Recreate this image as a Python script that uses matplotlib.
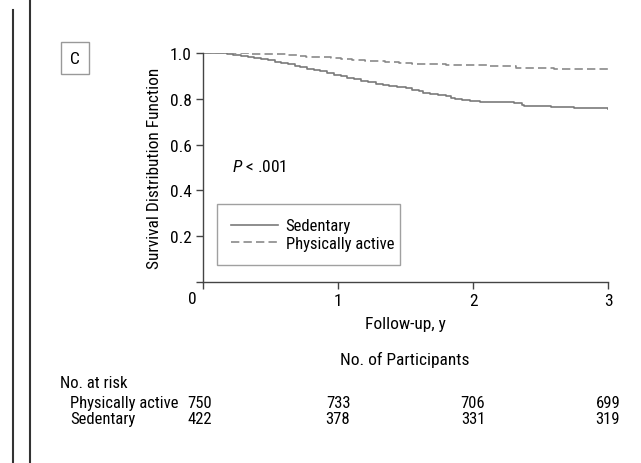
import matplotlib.pyplot as plt
from matplotlib.lines import Line2D

# survival step data (years, survival probability)
sed_t = [0, 0.12, 0.18, 0.22, 0.28, 0.33, 0.38, 0.43, 0.48, 0.53, 0.58, 0.63, 0.68,
         0.72, 0.77, 0.82, 0.87, 0.92, 0.97, 1.02, 1.07, 1.12, 1.17, 1.22, 1.28,
         1.33, 1.38, 1.44, 1.50, 1.55, 1.60, 1.63, 1.68, 1.74, 1.80, 1.84, 1.87,
         1.92, 1.98, 2.05, 2.12, 2.20, 2.30, 2.36, 2.38, 2.48, 2.58, 2.68, 2.75,
         2.85, 3.0]
sed_s = [1.0, 0.998, 0.995, 0.992, 0.988, 0.984, 0.980, 0.975, 0.970, 0.962, 0.955,
         0.950, 0.944, 0.938, 0.932, 0.926, 0.920, 0.913, 0.906, 0.899, 0.892, 0.886,
         0.879, 0.872, 0.866, 0.861, 0.856, 0.850, 0.845, 0.840, 0.834, 0.824, 0.821,
         0.818, 0.812, 0.804, 0.797, 0.794, 0.791, 0.788, 0.786, 0.784, 0.782, 0.775,
         0.769, 0.768, 0.766, 0.763, 0.759, 0.758, 0.757]

act_t = [0, 0.25, 0.35, 0.5, 0.62, 0.7, 0.76, 0.85, 0.95, 1.02, 1.1, 1.2, 1.27,
         1.35, 1.45, 1.55, 1.65, 1.8, 1.95, 2.1, 2.25, 2.32, 2.45, 2.6, 2.8, 3.0]
act_s = [1.0, 0.998, 0.996, 0.994, 0.991, 0.989, 0.984, 0.981, 0.977, 0.974, 0.970,
         0.966, 0.963, 0.960, 0.956, 0.953, 0.950, 0.948, 0.946, 0.944, 0.942, 0.935,
         0.933, 0.932, 0.931, 0.931]

years = [0, 1, 2, 3]
at_risk_active = [750, 733, 706, 699]
at_risk_sed = [422, 378, 331, 319]

FS = 12
plt.rcParams['font.family'] = ['Roboto Condensed', 'DejaVu Sans']
plt.rcParams['font.size'] = FS
plt.rcParams['mathtext.fontset'] = 'custom'
plt.rcParams['mathtext.it'] = 'Roboto Condensed:italic'

W, H = 641, 464
fig = plt.figure(figsize=(W / 100, H / 100), dpi=100)

def fx(px):
    return px / W

def fy(py):
    return 1 - py / H

ax = fig.add_axes([fx(203), fy(283), fx(608) - fx(203), fy(54) - fy(283)])
ax.step(sed_t, sed_s, where='post', color='#7a7a7a', lw=1.2, label='Sedentary')
ax.step(act_t, act_s, where='post', color='#8a8a8a', lw=1.2, ls=(0, (5, 2.5)),
        label='Physically active')

ax.set_xlim(0, 3)
ax.set_ylim(0, 1.0)
ax.set_xticks(years)
ax.set_xticklabels(['', '1', '2', '3'])
ax.set_yticks([0, 0.2, 0.4, 0.6, 0.8, 1.0])
ax.set_yticklabels(['', '0.2', '0.4', '0.6', '0.8', '1.0'])
for s in ['top', 'right']:
    ax.spines[s].set_visible(False)
for s in ['left', 'bottom']:
    ax.spines[s].set_color('#444444')
    ax.spines[s].set_linewidth(1.0)
ax.tick_params(direction='out', length=5, width=1, color='#444444', labelsize=12.5, pad=3)
ax.set_ylabel('Survival Distribution Function', fontsize=12.5, labelpad=6)
ax.set_xlabel('Follow-up, y', fontsize=12.5, labelpad=6)
ax.patch.set_visible(False)

ax.text(0.072, 0.505, r'$P$ < .001', transform=ax.transAxes, fontsize=12.5,
        va='center', ha='left')

leg = ax.legend(loc='lower left', bbox_to_anchor=(0.035, 0.074, 0.451, 0.254),
                mode='expand', frameon=True, fancybox=False, handlelength=2.8,
                handletextpad=0.45, borderpad=0.85, borderaxespad=0,
                labelspacing=0.15, fontsize=FS)
leg.get_frame().set_edgecolor('#888888')
leg.get_frame().set_linewidth(1.0)

fig.text(fx(192), fy(300), '0', ha='center', va='center', fontsize=12.5)

fig.text(fx(75), fy(59), 'C', ha='center', va='center', fontsize=12.5,
         bbox=dict(boxstyle='square,pad=0.5', fc='white', ec='#999999', lw=1))

fig.add_artist(Line2D([fx(13), fx(13)], [fy(11), 0], transform=fig.transFigure,
                      color='#333333', lw=1.5))
fig.add_artist(Line2D([fx(30), fx(30)], [fy(2), 0], transform=fig.transFigure,
                      color='#333333', lw=1.5))

# number-at-risk table
fig.text(fx(405), fy(360), 'No. of Participants', ha='center', va='center', fontsize=12.5)
fig.text(fx(60), fy(383), 'No. at risk', ha='left', va='center', fontsize=FS)
fig.text(fx(70), fy(404), 'Physically active', ha='left', va='center', fontsize=FS)
fig.text(fx(70), fy(420), 'Sedentary', ha='left', va='center', fontsize=FS)
to_fig = ax.transData + fig.transFigure.inverted()
for yr, a, s in zip(years, at_risk_active, at_risk_sed):
    xf = to_fig.transform((yr, 0))[0] - (fx(3) if yr == 0 else 0)
    fig.text(xf, fy(404), str(a), ha='center', va='center', fontsize=FS)
    fig.text(xf, fy(420), str(s), ha='center', va='center', fontsize=FS)

fig.savefig('out.png', dpi=100)
